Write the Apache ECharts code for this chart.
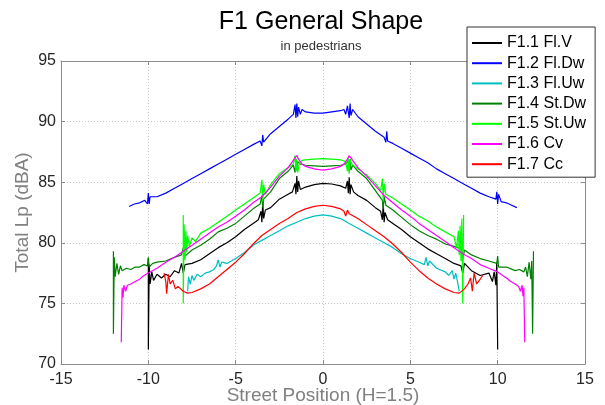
<!DOCTYPE html>
<html>
<head>
<meta charset="utf-8">
<title>F1 General Shape</title>
<script src="https://cdn.jsdelivr.net/npm/echarts@6/dist/echarts.min.js"></script>
<style>
  html, body { margin: 0; padding: 0; background: #fff; }
  #main { width: 605px; height: 405px; }
</style>
</head>
<body>
<div id="main"></div>
<script>
// series names as in the legend
var seriesNames = ['F1.1 Fl.V', 'F1.2 Fl.Dw', 'F1.3 Fl.Uw', 'F1.4 St.Dw', 'F1.5 St.Uw', 'F1.6 Cv', 'F1.7 Cc'];

// [street position, total Lp]
var flV = [
  [-10, 78.7], [-10, 71.2], [-9.95, 78.2], [-9.9, 76.6], [-9.8, 77.6], [-9.7, 76.9], [-9.5, 77.4], [-9.25, 77.1],
  [-9, 77.4], [-8.75, 77.2], [-8.5, 77.7], [-8.25, 77.5], [-8.1, 78.3], [-8, 77.5], [-7.9, 78.2], [-7.5, 78.3],
  [-7, 78.6], [-6.5, 79.1], [-6, 79.6], [-5.5, 80.0], [-5, 80.5], [-4.5, 81.1], [-4, 81.6], [-3.7, 81.9],
  [-3.55, 82.6], [-3.5, 81.7], [-3.45, 83.3], [-3.4, 82.0], [-3.3, 82.7], [-3, 82.9], [-2.5, 83.6], [-2, 84.0],
  [-1.75, 84.2], [-1.6, 84.9], [-1.55, 84.0], [-1.5, 85.5], [-1.45, 84.2], [-1.4, 85.1], [-1.3, 84.4], [-1, 84.6],
  [-0.5, 84.8], [0, 84.9], [0.5, 84.85], [1, 84.7], [1.3, 84.5], [1.4, 85.1], [1.45, 84.1], [1.5, 85.4],
  [1.55, 84.0], [1.6, 84.8], [1.75, 84.2], [2, 83.9], [2.5, 83.5], [3, 82.9], [3.3, 82.6], [3.4, 81.9],
  [3.45, 83.2], [3.5, 81.7], [3.55, 82.5], [3.7, 81.9], [4, 81.6], [4.5, 81.1], [5, 80.5], [5.5, 80.0],
  [6, 79.5], [6.5, 79.1], [7, 78.7], [7.5, 78.3], [7.9, 78.1], [8, 77.5], [8.1, 78.3], [8.5, 77.7],
  [9, 77.3], [9.5, 77.5], [9.7, 76.8], [9.8, 77.6], [9.9, 76.5], [9.95, 78.4], [10, 71.2]
];
var flDw = [
  [-11.1, 83.0], [-10.8, 83.2], [-10.5, 83.3], [-10.2, 83.5], [-10.05, 83.2], [-10, 84.1], [-9.95, 83.2], [-9.9, 83.8],
  [-9.5, 83.8], [-9, 84.1], [-8.5, 84.5], [-8, 84.9], [-7.5, 85.3], [-7, 85.7], [-6.5, 86.1], [-6, 86.5],
  [-5.5, 86.9], [-5, 87.3], [-4.5, 87.7], [-4, 88.1], [-3.6, 88.4], [-3.5, 88.0], [-3.45, 88.9], [-3.4, 88.3],
  [-3, 89.0], [-2.5, 89.6], [-2, 90.2], [-1.7, 90.6], [-1.6, 91.4], [-1.55, 90.3], [-1.5, 91.5], [-1.45, 90.4],
  [-1.4, 91.2], [-1.3, 90.6], [-1.2, 91.0], [-1, 90.8], [-0.5, 90.7], [0, 90.7], [0.5, 90.8], [1, 90.9],
  [1.2, 91.0], [1.3, 90.6], [1.4, 91.3], [1.5, 90.3], [1.55, 91.5], [1.6, 90.5], [1.7, 91.0], [2, 90.4],
  [2.5, 89.8], [3, 89.2], [3.5, 88.7], [3.6, 88.3], [3.65, 89.2], [3.7, 88.4], [4, 88.2], [4.5, 87.8],
  [5, 87.4], [5.5, 87.0], [6, 86.6], [6.5, 86.1], [7, 85.7], [7.5, 85.3], [8, 84.9], [8.5, 84.5],
  [9, 84.1], [9.5, 83.8], [9.9, 83.6], [9.95, 84.2], [10, 83.2], [10.05, 84.0], [10.2, 83.4], [10.5, 83.3],
  [10.8, 83.1], [11.1, 82.9]
];
var flUw = [
  [-7.75, 76.0], [-7.7, 77.2], [-7.6, 76.6], [-7.5, 77.3], [-7.4, 76.9], [-7.2, 77.4], [-7, 77.2], [-6.75, 77.5],
  [-6.5, 77.6], [-6.25, 77.8], [-6.1, 78.1], [-6, 78.6], [-5.9, 78.0], [-5.8, 78.4], [-5.5, 78.3], [-5, 78.7],
  [-4.5, 79.2], [-4, 79.8], [-3.5, 80.2], [-3, 80.6], [-2.5, 81.0], [-2, 81.4], [-1.5, 81.7], [-1, 82.0],
  [-0.5, 82.2], [0, 82.3], [0.5, 82.2], [1, 82.0], [1.5, 81.6], [2, 81.2], [2.5, 80.8], [3, 80.4],
  [3.5, 80.0], [4, 79.6], [4.5, 79.1], [5, 78.7], [5.5, 78.4], [5.8, 78.2], [5.9, 78.8], [6, 78.1],
  [6.1, 78.5], [6.5, 77.9], [7, 77.6], [7.2, 77.3], [7.4, 77.7], [7.5, 77.0], [7.6, 77.5], [7.7, 76.8],
  [7.8, 76.0]
];
var stDw = [
  [-12, 79.3], [-12, 72.5], [-11.95, 78.8], [-11.9, 77.2], [-11.8, 78.3], [-11.7, 77.4], [-11.6, 78.1], [-11.5, 77.7],
  [-11.25, 77.9], [-11, 77.8], [-10.75, 78.0], [-10.5, 78.0], [-10.25, 78.2], [-10.05, 78.1], [-10, 78.8], [-9.95, 78.0],
  [-9.75, 78.3], [-9.5, 78.4], [-9, 78.5], [-8.5, 78.8], [-8.1, 79.0], [-8, 79.6], [-7.9, 78.9], [-7.5, 79.4],
  [-7, 79.8], [-6.5, 80.3], [-6, 80.9], [-5.5, 81.2], [-5, 81.6], [-4.5, 82.2], [-4, 82.8], [-3.6, 83.2],
  [-3.5, 83.9], [-3.45, 82.9], [-3.4, 83.6], [-3, 84.2], [-2.5, 85.3], [-2, 85.9], [-1.7, 86.4], [-1.6, 85.8],
  [-1.55, 86.9], [-1.5, 86.0], [-1.45, 86.7], [-1.3, 86.5], [-1, 86.4], [-0.5, 86.35], [0, 86.3], [0.5, 86.35],
  [1, 86.4], [1.3, 86.5], [1.45, 86.8], [1.5, 85.9], [1.55, 86.9], [1.6, 86.0], [1.7, 86.4], [2, 85.9],
  [2.5, 85.3], [3, 84.3], [3.4, 83.5], [3.45, 82.8], [3.5, 83.8], [3.6, 83.1], [4, 82.7], [4.5, 82.1],
  [5, 81.5], [5.5, 81.0], [6, 80.6], [6.5, 80.3], [7, 79.9], [7.5, 79.7], [7.9, 79.5], [8, 78.7],
  [8.1, 79.4], [8.5, 79.0], [9, 78.7], [9.5, 78.5], [9.95, 78.3], [10, 78.9], [10.05, 78.0], [10.5, 78.0],
  [11, 77.7], [11.25, 77.8], [11.5, 77.6], [11.6, 78.0], [11.7, 77.2], [11.8, 78.4], [11.9, 77.0], [11.95, 78.5],
  [12, 72.5], [12.05, 79.3]
];
var stUw = [
  [-8, 82.3], [-8, 75.0], [-7.95, 81.5], [-7.9, 78.6], [-7.85, 81.0], [-7.8, 79.2], [-7.75, 80.6], [-7.65, 79.7],
  [-7.5, 80.4], [-7.3, 80.1], [-7, 80.8], [-6.5, 81.2], [-6, 81.7], [-5.5, 82.2], [-5, 82.7], [-4.5, 83.2],
  [-4, 83.7], [-3.6, 84.1], [-3.5, 85.2], [-3.45, 83.4], [-3.4, 84.8], [-3.3, 84.0], [-3, 84.8], [-2.5, 85.7],
  [-2, 86.2], [-1.7, 86.5], [-1.6, 87.2], [-1.55, 85.9], [-1.5, 86.9], [-1.45, 85.8], [-1.35, 86.6], [-1.2, 86.8],
  [-1, 86.85], [-0.5, 86.9], [0, 86.95], [0.5, 86.9], [1, 86.85], [1.3, 86.7], [1.4, 85.9], [1.45, 87.0],
  [1.5, 85.7], [1.55, 86.8], [1.7, 86.4], [2, 86.1], [2.5, 85.6], [3, 84.9], [3.3, 84.3], [3.4, 85.3],
  [3.45, 83.4], [3.5, 84.9], [3.6, 84.0], [4, 83.7], [4.5, 83.2], [5, 82.7], [5.5, 82.2], [6, 81.8],
  [6.5, 81.3], [7, 80.9], [7.5, 80.5], [7.65, 79.6], [7.75, 81.0], [7.8, 79.0], [7.85, 81.4], [7.9, 78.5],
  [7.95, 82.0], [8, 75.0], [8.05, 82.3]
];
var cv = [
  [-11.55, 71.8], [-11.5, 76.3], [-11.45, 75.5], [-11.4, 76.5], [-11.3, 76.0], [-11.2, 76.5], [-11, 76.6], [-10.75, 76.8],
  [-10.5, 77.0], [-10.25, 77.3], [-10, 77.5], [-9.5, 77.9], [-9, 78.4], [-8.5, 78.8], [-8, 79.3], [-7.5, 79.8],
  [-7, 80.3], [-6.5, 80.8], [-6, 81.3], [-5.5, 81.7], [-5, 82.2], [-4.5, 82.7], [-4, 83.3], [-3.5, 83.8],
  [-3, 84.6], [-2.5, 85.5], [-2, 86.2], [-1.75, 86.7], [-1.6, 87.0], [-1.5, 87.2], [-1.4, 86.9], [-1.2, 86.5],
  [-1, 86.3], [-0.5, 86.1], [0, 86.0], [0.5, 86.1], [1, 86.3], [1.2, 86.5], [1.4, 86.9], [1.5, 87.2],
  [1.6, 87.0], [1.75, 86.7], [2, 86.2], [2.5, 85.5], [3, 84.7], [3.5, 83.9], [4, 83.3], [4.5, 82.7],
  [5, 82.2], [5.5, 81.6], [6, 81.1], [6.5, 80.6], [7, 80.1], [7.5, 79.6], [8, 79.1], [8.5, 78.7],
  [9, 78.2], [9.5, 77.9], [10, 77.6], [10.5, 77.1], [10.75, 76.8], [11, 76.6], [11.2, 76.4], [11.3, 76.0],
  [11.4, 76.5], [11.45, 75.6], [11.5, 76.3], [11.55, 71.8]
];
var cc = [
  [-9.1, 77.5], [-9, 76.8], [-8.95, 75.8], [-8.85, 77.4], [-8.75, 76.6], [-8.6, 76.9], [-8.45, 76.2], [-8.3, 76.4],
  [-8, 76.0], [-7.75, 75.85], [-7.5, 75.9], [-7, 76.2], [-6.5, 76.6], [-6, 77.2], [-5.5, 77.8], [-5, 78.4],
  [-4.5, 79.1], [-4, 79.9], [-3.5, 80.6], [-3, 81.1], [-2.5, 81.6], [-2, 82.0], [-1.5, 82.5], [-1, 82.8],
  [-0.5, 83.0], [0, 83.1], [0.5, 83.0], [1, 82.8], [1.2, 82.6], [1.3, 82.2], [1.4, 82.7], [1.5, 82.4],
  [2, 82.0], [2.5, 81.5], [3, 81.0], [3.5, 80.5], [4, 79.9], [4.5, 79.2], [5, 78.4], [5.5, 77.7],
  [6, 77.1], [6.5, 76.6], [7, 76.2], [7.5, 75.9], [7.8, 75.85], [8.1, 76.2], [8.3, 76.6], [8.45, 77.1],
  [8.55, 76.0], [8.65, 77.5], [8.8, 76.6], [9, 77.0], [9.15, 77.3]
];

var xTicks = [-15, -10, -5, 0, 5, 10, 15];
var yTicks = [70, 75, 80, 85, 90, 95];

var seriesData = [flV, flDw, flUw, stDw, stUw, cv, cc];
var seriesColors = ['#000000', '#0000ff', '#00bfbf', '#008000', '#00ff00', '#ff00ff', '#ff0000'];

var fontFamily = '"Liberation Sans", Arial, sans-serif';
var gridLine = { show: true, lineStyle: { color: '#c8c8c8', type: [1, 2], width: 1 } };
var axisLine = { show: true, onZero: false, lineStyle: { color: '#8c8c8c', width: 1 } };
var tickIn = { show: true, inside: true, length: 4, lineStyle: { color: '#8c8c8c' } };

var chart = echarts.init(document.getElementById('main'), null, { renderer: 'canvas' });

var option = {
  animation: false,
  backgroundColor: '#ffffff',
  textStyle: { fontFamily: fontFamily },
  title: {
    text: 'F1 General Shape',
    subtext: 'in pedestrians',
    left: 321,
    top: 10,
    padding: 0,
    itemGap: 5,
    textAlign: 'center',
    textStyle: { fontSize: 25, fontWeight: 'normal', color: '#000', fontFamily: fontFamily },
    subtextStyle: { fontSize: 13, color: '#333', fontFamily: fontFamily }
  },
  legend: {
    orient: 'vertical',
    left: 467,
    top: 27,
    padding: [8, 9, 5, 5],
    icon: 'rect',
    itemWidth: 30,
    itemHeight: 2,
    itemGap: 4.2,
    borderColor: '#333',
    borderWidth: 1,
    borderRadius: 0,
    backgroundColor: '#ffffff',
    textStyle: { fontSize: 16, lineHeight: 16, color: '#000', fontFamily: fontFamily },
    data: seriesNames
  },
  grid: {
    left: 61,
    right: 20,
    top: 61,
    bottom: 41,
    containLabel: false,
    outerBoundsMode: 'none'
  },
  xAxis: [{
    type: 'value',
    min: xTicks[0],
    max: xTicks[xTicks.length - 1],
    interval: 5,
    axisLine: axisLine,
    axisTick: tickIn,
    splitLine: gridLine,
    axisLabel: { color: '#262626', fontSize: 16, margin: 8, fontFamily: fontFamily },
    name: 'Street Position (H=1.5)',
    nameLocation: 'middle',
    nameGap: 22,
    nameMoveOverlap: false,
    nameTextStyle: { color: '#808080', fontSize: 19, fontFamily: fontFamily }
  }, {
    type: 'value',
    position: 'top',
    min: xTicks[0],
    max: xTicks[xTicks.length - 1],
    interval: 5,
    axisLine: axisLine,
    axisTick: tickIn,
    splitLine: { show: false },
    axisLabel: { show: false }
  }],
  yAxis: [{
    type: 'value',
    min: yTicks[0],
    max: yTicks[yTicks.length - 1],
    interval: 5,
    axisLine: axisLine,
    axisTick: tickIn,
    splitLine: gridLine,
    axisLabel: { color: '#262626', fontSize: 16, margin: 5, fontFamily: fontFamily },
    name: 'Total Lp (dBA)',
    nameLocation: 'middle',
    nameGap: 29,
    nameRotate: 90,
    nameMoveOverlap: false,
    nameTextStyle: { color: '#808080', fontSize: 19, fontFamily: fontFamily }
  }, {
    type: 'value',
    position: 'right',
    min: yTicks[0],
    max: yTicks[yTicks.length - 1],
    interval: 5,
    axisLine: axisLine,
    axisTick: tickIn,
    splitLine: { show: false },
    axisLabel: { show: false }
  }],
  series: seriesNames.map(function (name, i) {
    return {
      name: name,
      type: 'line',
      xAxisIndex: 0,
      yAxisIndex: 0,
      data: seriesData[i],
      symbol: 'none',
      color: seriesColors[i],
      lineStyle: { width: 1.2, color: seriesColors[i] },
      z: 2 + i
    };
  })
};

chart.setOption(option);
</script>
</body>
</html>
